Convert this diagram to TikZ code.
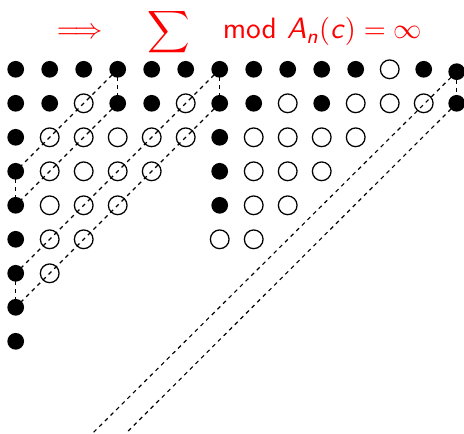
\documentclass[tikz,border=0pt]{standalone}
\usepackage{tikz, amsmath, amssymb}

\tikzset{
	full/.style={circle, fill=black, inner sep=0pt, minimum size=5.9pt},
	hole/.style={circle, draw, line width=0.45pt, inner sep=0pt, minimum size=6.6pt},
	link/.style={line width=0.4pt, dash pattern=on 1.4pt off 1.4pt}
}

\begin{document}
\begin{tikzpicture}[x=12pt, y=-12pt]
	\useasboundingbox (-0.462,-2.038) rectangle (13.185,10.697);

	\node (title) at (6.58,-1.1) [text=red, inner sep=0pt, font=\fontsize{10.4}{12}\selectfont]
		{$\Longrightarrow\hspace{13pt}\displaystyle\sum\hspace{10pt}
		\textsf{mod}\ \textsf{\textit{A}}_{\textsf{\textit{n}}}(\textsf{\textit{c}}) = \infty$};

	% row 0
	\node (a0)  at (0,0)  [full] {};
	\node (a1)  at (1,0)  [full] {};
	\node (a2)  at (2,0)  [full] {};
	\node (a3)  at (3,0)  [full] {};
	\node (a4)  at (4,0)  [full] {};
	\node (a5)  at (5,0)  [full] {};
	\node (a6)  at (6,0)  [full] {};
	\node (a7)  at (7,0)  [full] {};
	\node (a8)  at (8,0)  [full] {};
	\node (a9)  at (9,0)  [full] {};
	\node (a10) at (10,0) [full] {};
	\node (a11) at (11,0) [hole] {};
	\node (a12) at (12,0) [full] {};
	\node (a13) at (12.97,0.07) [full] {};

	% row 1
	\node (b0)  at (0,1)  [full] {};
	\node (b1)  at (1,1)  [full] {};
	\node (b2)  at (2,1)  [hole] {};
	\node (b3)  at (3,1)  [full] {};
	\node (b4)  at (4,1)  [full] {};
	\node (b5)  at (5,1)  [hole] {};
	\node (b6)  at (6,1)  [full] {};
	\node (b7)  at (7,1)  [full] {};
	\node (b8)  at (8,1)  [hole] {};
	\node (b9)  at (9,1)  [full] {};
	\node (b10) at (10,1) [hole] {};
	\node (b11) at (11,1) [hole] {};
	\node (b12) at (12,1) [hole] {};
	\node (b13) at (12.97,1) [full] {};

	% row 2
	\node (c0)  at (0,2)  [full] {};
	\node (c1)  at (1,2)  [hole] {};
	\node (c2)  at (2,2)  [hole] {};
	\node (c3)  at (3,2)  [hole] {};
	\node (c4)  at (4,2)  [hole] {};
	\node (c5)  at (5,2)  [hole] {};
	\node (c6)  at (6,2)  [full] {};
	\node (c7)  at (7,2)  [hole] {};
	\node (c8)  at (8,2)  [hole] {};
	\node (c9)  at (9,2)  [hole] {};
	\node (c10) at (10,2) [hole] {};

	% row 3
	\node (d0)  at (0,3)  [full] {};
	\node (d1)  at (1,3)  [hole] {};
	\node (d2)  at (2,3)  [hole] {};
	\node (d3)  at (3,3)  [hole] {};
	\node (d4)  at (4,3)  [hole] {};
	\node (d6)  at (6,3)  [full] {};
	\node (d7)  at (7,3)  [hole] {};
	\node (d8)  at (8,3)  [hole] {};
	\node (d9)  at (9,3)  [hole] {};

	% row 4
	\node (e0)  at (0,4)  [full] {};
	\node (e1)  at (1,4)  [hole] {};
	\node (e2)  at (2,4)  [hole] {};
	\node (e3)  at (3,4)  [hole] {};
	\node (e6)  at (6,4)  [full] {};
	\node (e7)  at (7,4)  [hole] {};
	\node (e8)  at (8,4)  [hole] {};

	% row 5 and below
	\node (f0)  at (0,5)  [full] {};
	\node (f1)  at (1,5)  [hole] {};
	\node (f2)  at (2,5)  [hole] {};
	\node (f6)  at (6,5)  [hole] {};
	\node (f7)  at (7,5)  [hole] {};
	\node (g0)  at (0,6)  [full] {};
	\node (g1)  at (1,6)  [hole] {};
	\node (h0)  at (0,7)  [full] {};
	\node (i0)  at (0,8)  [full] {};

	\coordinate (end1) at (2.27,10.697);
	\coordinate (end2) at (3.25,10.697);

	% Draw the dashed paths
	\draw[link] (a3.center) -- (b3.center);
	\draw[link] (a3.center) -- (d0.center);
	\draw[link] (d0.center) -- (e0.center);
	\draw[link] (b3.center) -- (e0.center);
	\draw[link] (a6.center) -- (b6.center);
	\draw[link] (a6.center) -- (g0.center);
	\draw[link] (g0.center) -- (h0.center);
	\draw[link] (b6.center) -- (h0.center);
	\draw[link] (a13.center) -- (b13.center);
	\draw[link] (a13.center) -- (end1);
	\draw[link] (b13.center) -- (end2);
\end{tikzpicture}
\end{document}
